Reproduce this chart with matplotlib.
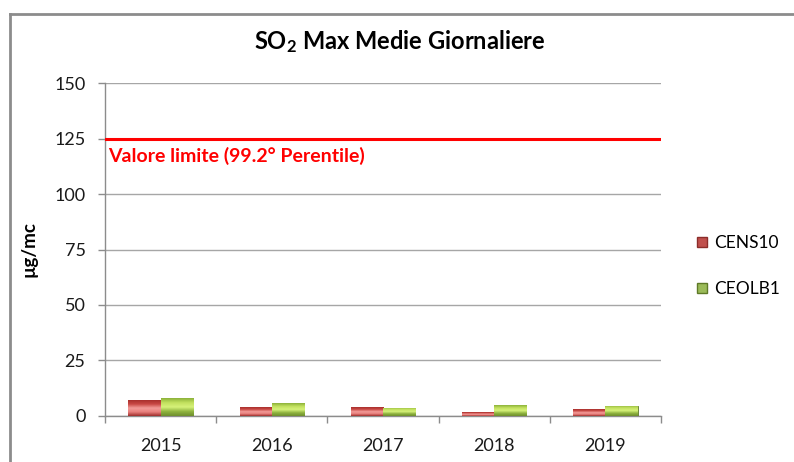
import numpy as np
import matplotlib
matplotlib.use('Agg')
import matplotlib.pyplot as plt
from matplotlib.lines import Line2D
from matplotlib.colors import LinearSegmentedColormap

plt.rcParams['font.family'] = ['Lato', 'DejaVu Sans']
plt.rcParams['mathtext.default'] = 'regular'

# Data
years = ['2015', '2016', '2017', '2018', '2019']
cens10 = [7.2, 3.8, 3.8, 1.7, 3.0]
ceolb1 = [7.9, 5.6, 3.7, 4.7, 4.6]
limit_value = 125
limit_label = 'Valore limite (99.2° Perentile)'

fig = plt.figure(figsize=(7.94, 4.62), dpi=100)
ax = fig.add_axes([0.1322, 0.1002, 0.7003, 0.7195])

x = np.arange(len(years))
w = 0.29

red_cmap = LinearSegmentedColormap.from_list('r', ['#9e2f2c', '#e87f7c', '#f29b98', '#c84844', '#a8302d'])
green_cmap = LinearSegmentedColormap.from_list('g', ['#6f8f2e', '#8fb33f', '#d6f27a', '#c2e05e', '#8cb23a'])

b1 = ax.bar(x - w / 2, cens10, w, color='#c0504d', edgecolor='#8c2d2a', linewidth=0.6,
            label='CENS10', zorder=3)
b2 = ax.bar(x + w / 2, ceolb1, w, color='#9bbb59', edgecolor='#5f7a28', linewidth=0.6,
            label='CEOLB1', zorder=3)

# vertical gradient inside each bar (Excel bevel look)
grad = np.linspace(0, 1, 64).reshape(-1, 1)
for bars, cm in ((b1, red_cmap), (b2, green_cmap)):
    for p in bars:
        x0, y0 = p.get_x(), p.get_y()
        im = ax.imshow(grad, cmap=cm, aspect='auto', origin='lower',
                       extent=[x0, x0 + p.get_width(), y0, y0 + p.get_height()], zorder=3.5)
        im.set_clip_path(p)

# limit line
ax.axhline(limit_value, color='#ff0000', linewidth=2.2, zorder=4)
ax.text(-0.47, limit_value - 3.5, limit_label, color='#ff0000', fontsize=14, fontweight='bold',
        ha='left', va='top', zorder=5)

ax.set_xlim(-0.5, len(years) - 0.5)
ax.set_ylim(0, 150)
ax.set_yticks(np.arange(0, 151, 25))
ax.yaxis.grid(True, color='#a6a6a6', linewidth=1.0, zorder=0)
ax.set_axisbelow(True)

# ticks at category boundaries, labels at centres
ax.set_xticks(np.arange(-0.5, len(years), 1.0))
ax.set_xticklabels([])
ax.set_xticks(x, minor=True)
ax.set_xticklabels(years, minor=True)
ax.tick_params(axis='x', which='major', length=5, color='#8c8c8c', width=1)
ax.tick_params(axis='x', which='minor', length=0, pad=16, labelsize=13, labelcolor='#1a1a1a')
ax.tick_params(axis='y', length=5, color='#8c8c8c', width=1, pad=9, labelsize=13, labelcolor='#1a1a1a')

for s in ('top', 'right'):
    ax.spines[s].set_visible(False)
for s in ('left', 'bottom'):
    ax.spines[s].set_color('#8c8c8c')
    ax.spines[s].set_linewidth(1)

ax.set_ylabel('µg/mc', fontsize=13.5, fontweight='bold')
ax.yaxis.set_label_coords(-0.122, 0.5)

fig.text(0.503, 0.909, 'SO$_2$ Max Medie Giornaliere', ha='center', va='center',
         fontsize=17, fontweight='bold')

leg = ax.legend(handles=[
    Line2D([], [], marker='s', linestyle='none', markersize=7, markerfacecolor='#c0504d', markeredgecolor='#8c2d2a'),
    Line2D([], [], marker='s', linestyle='none', markersize=7, markerfacecolor='#9bbb59', markeredgecolor='#5f7a28')],
    labels=['CENS10', 'CEOLB1'], loc='center left', bbox_to_anchor=(1.035, 0.45), frameon=False,
    fontsize=12.5, handlelength=0.7, handletextpad=0.35, labelspacing=1.75)

# chart frame (left and top)
fig.add_artist(Line2D([0.012, 0.012], [0, 0.969], color='#8c8c8c', linewidth=2, transform=fig.transFigure))
fig.add_artist(Line2D([0.012, 1.0], [0.969, 0.969], color='#8c8c8c', linewidth=2, transform=fig.transFigure))

fig.savefig('out.png', dpi=100)
